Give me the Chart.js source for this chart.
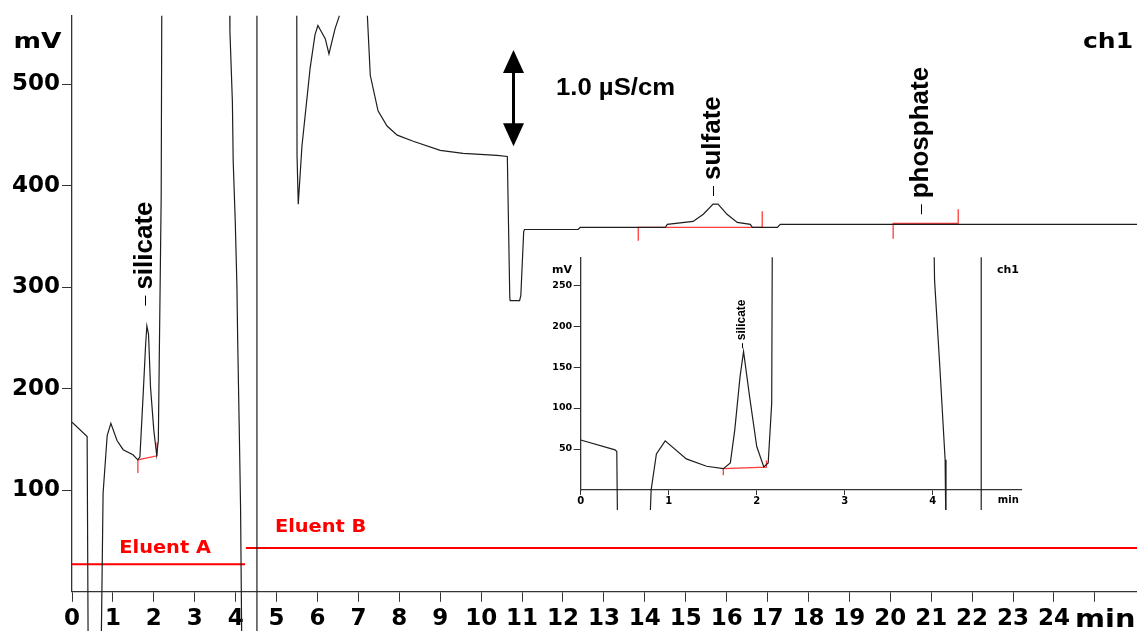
<!DOCTYPE html>
<html>
<head>
<meta charset="utf-8">
<script src="https://cdn.jsdelivr.net/npm/chart.js@4.4.1/dist/chart.umd.min.js"></script>
<style>
    body { margin: 0; background: #fff; }
    #wrap { position: relative; width: 1137px; height: 631px; }
    #main { position: absolute; left: 0; top: 0; }
    #inset { position: absolute; left: 540px; top: 250px; }
</style>
</head>
<body>
<div id="wrap">
    <canvas id="main" width="1137" height="631"></canvas>
    <canvas id="inset" width="490" height="260"></canvas>
</div>
<script>
// Chromatogram ch1 - signal in mV against retention time in min
// values above/below the plot range are off-scale excursions (clipped)
const mainTime = [0.00, 0.37, 0.40, 0.70, 0.76, 0.86, 0.95, 1.10, 1.25, 1.49, 1.61, 1.66, 1.74, 1.80, 1.83, 1.87,
    1.92, 2.00, 2.07, 2.11, 2.13, 2.18, 2.20, 3.84, 3.86, 3.92, 3.94, 3.99, 4.03, 4.05, 4.09, 4.12, 4.16, 4.52, 4.52,
    5.49, 5.50, 5.53, 5.62, 5.82, 5.94, 6.01, 6.19, 6.28, 6.43, 6.53, 6.56, 7.21, 7.22, 7.29, 7.48, 7.70, 7.95, 8.34,
    9.00, 9.56, 10.39, 10.64, 10.70, 10.71, 10.94, 10.97, 11.04, 11.06, 12.37, 12.42, 14.50, 14.55, 15.18, 15.43,
    15.67, 15.79, 16.01, 16.26, 16.58, 16.63, 17.24, 17.31, 26.03];
const mainSignal = [167, 153, -100, -100, 97, 154, 166, 149, 140, 135, 130, 133, 195, 244, 262, 254,
    201, 159, 135, 149, 220, 390, 650, 650, 552, 483, 424, 365, 303, 247, 156, 83, -100, -100, 650,
    650, 430, 382, 439, 516, 549, 558, 545, 530, 555, 567, 650, 650, 567, 509, 474, 459, 450, 444,
    435, 432, 430, 429, 290, 287, 287, 292, 355, 357, 357, 359, 359, 362, 365, 372,
    382, 382, 372, 364, 362, 359, 359, 362, 362];

// integration baselines (red), main chart
const silicateBaseTime = [1.61, 1.61, 2.08, 2.08];
const silicateBaseMv = [117, 130, 134, 147];
const sulfateBaseTime = [13.84, 13.84, 16.87, 16.87];
const sulfateBaseMv = [346, 359, 359, 375];
const phosphateBaseTime = [20.07, 20.07, 21.66, 21.66];
const phosphateBaseMv = [348, 363, 363, 377];

// eluent program lines
const eluentATime = [0, 4.23];
const eluentAMv = [27, 27];
const eluentBTime = [4.25, 26.03];
const eluentBMv = [43, 43];

// peak labels
const peakNames = ['silicate', 'sulfate', 'phosphate'];
const peakTimes = [1.785, 15.67, 20.75];
const peakLabelMv = [282, 390, 372];

// inset: zoom on the first 5 minutes
const insetTime = [0.00, 0.39, 0.41, 0.42, 0.78, 0.80, 0.86, 0.96, 1.20, 1.43, 1.62, 1.70, 1.75, 1.81, 1.85,
    1.92, 2.00, 2.08, 2.13, 2.17, 2.18, 4.00, 4.02, 4.08, 4.14, 4.15, 4.55, 4.55, 5.01];
const insetSignal = [61, 49, 47, -60, -60, 0, 44, 60, 38, 29, 26, 33, 73, 138, 169,
    113, 53, 28, 33, 106, 400, 400, 256, 150, 37, -60, -60, 400, 400];
const insetBaseTime = [1.62, 1.62, 2.11, 2.11];
const insetBaseMv = [18, 26, 28, 36];
const insetPeakTime = 1.83;
const insetPeakMv = 173;

// tick values
const mainXTicks = [0, 1, 2, 3, 4, 5, 6, 7, 8, 9, 10, 11, 12, 13, 14, 15, 16, 17, 18, 19, 20, 21, 22, 23, 24, 25];
const mainYTicks = [100, 200, 300, 400, 500];
const insetXTicks = [0, 1, 2, 3, 4];
const insetYTicks = [50, 100, 150, 200, 250];

const toPoints = (xs, ys) => xs.map((x, i) => ({ x: x, y: ys[i] }));

function drawText(ctx, str, x, y, o) {
    ctx.save();
    ctx.translate(x, y);
    if (o.sx) ctx.scale(o.sx, 1);
    if (o.rot) ctx.rotate(o.rot);
    ctx.font = o.font;
    ctx.fillStyle = o.color || '#000';
    ctx.textAlign = o.align || 'left';
    ctx.textBaseline = o.baseline || 'alphabetic';
    ctx.fillText(str, 0, 0);
    ctx.restore();
}

function peakLabel(ctx, name, px, py, dash, gap, font) {
    ctx.save();
    ctx.strokeStyle = '#000';
    ctx.lineWidth = 1;
    ctx.beginPath();
    ctx.moveTo(Math.round(px) + 0.5, py);
    ctx.lineTo(Math.round(px) + 0.5, py - dash);
    ctx.stroke();
    ctx.restore();
    drawText(ctx, name, px, py - dash - gap, { font: font, rot: -Math.PI / 2, baseline: 'middle' });
}

const BOLD = '"DejaVu Sans", sans-serif';
const ARIAL = '"Liberation Sans", Arial, sans-serif';

// texts and arrow on the main chart
const mainDecor = {
    id: 'mainDecor',
    afterDatasetsDraw(chart) {
        const ctx = chart.ctx;
        const xs = chart.scales.x, ys = chart.scales.y;

        peakNames.forEach((name, i) => {
            peakLabel(ctx, name, xs.getPixelForValue(peakTimes[i]), ys.getPixelForValue(peakLabelMv[i]),
                10, 6, 'bold 26px ' + ARIAL);
        });

        drawText(ctx, 'Eluent A', xs.getPixelForValue(1.156), ys.getPixelForValue(38.4),
            { font: 'bold 17px ' + BOLD, color: '#ff0000', sx: 1.14 });
        drawText(ctx, 'Eluent B', xs.getPixelForValue(4.96), ys.getPixelForValue(59),
            { font: 'bold 17px ' + BOLD, color: '#ff0000', sx: 1.14 });

        // 1.0 uS/cm scale arrow
        const ax = Math.round(xs.getPixelForValue(10.77)) + 0.5;
        const top = ys.getPixelForValue(534), bot = ys.getPixelForValue(439);
        ctx.save();
        ctx.fillStyle = '#000';
        ctx.strokeStyle = '#000';
        ctx.lineWidth = 3;
        ctx.beginPath();
        ctx.moveTo(ax, top + 20);
        ctx.lineTo(ax, bot - 20);
        ctx.stroke();
        ctx.beginPath();
        ctx.moveTo(ax, top); ctx.lineTo(ax - 10.5, top + 23); ctx.lineTo(ax + 10.5, top + 23);
        ctx.closePath(); ctx.fill();
        ctx.beginPath();
        ctx.moveTo(ax, bot); ctx.lineTo(ax - 10.5, bot - 23); ctx.lineTo(ax + 10.5, bot - 23);
        ctx.closePath(); ctx.fill();
        ctx.restore();
        drawText(ctx, '1.0 \u00b5S/cm', 556, 95, { font: 'bold 24px ' + ARIAL, sx: 1.07 });

        // axis captions
        drawText(ctx, 'mV', 37.5, 48, { font: 'bold 22px ' + BOLD, sx: 1.2, align: 'center' });
        drawText(ctx, 'ch1', 1108, 48, { font: 'bold 22px ' + BOLD, sx: 1.14, align: 'center' });
        drawText(ctx, 'min', 1075, 626.7, { font: 'bold 24px ' + BOLD, sx: 1.2 });
    }
};

const insetDecor = {
    id: 'insetDecor',
    afterDatasetsDraw(chart) {
        const ctx = chart.ctx;
        const xs = chart.scales.x, ys = chart.scales.y;
        peakLabel(ctx, 'silicate', xs.getPixelForValue(insetPeakTime), ys.getPixelForValue(insetPeakMv),
            5, 3, 'bold 12px ' + ARIAL);
        drawText(ctx, 'mV', 22, 22.7, { font: 'bold 11px ' + BOLD, align: 'center' });
        drawText(ctx, 'ch1', 468, 22.7, { font: 'bold 11px ' + BOLD, align: 'center' });
        drawText(ctx, 'min', 468.3, 253.3, { font: 'bold 10px ' + BOLD, align: 'center' });
    }
};

function axisOpts(o) {
    return {
        type: 'linear',
        min: o.min,
        max: o.max,
        afterBuildTicks: (scale) => { scale.ticks = o.ticks.map(v => ({ value: v })); },
        afterFit: o.fit,
        border: { display: true, color: '#333', width: 1.3 },
        grid: { display: true, drawOnChartArea: false, drawTicks: true, tickLength: o.tickLength, color: '#333', lineWidth: 1 },
        ticks: {
            autoSkip: false,
            maxRotation: 0,
            padding: o.padding,
            color: '#000',
            font: { family: 'DejaVu Sans', size: o.fontSize, weight: 'bold' },
            callback: o.label || ((v) => v)
        }
    };
}

const traceStyle = { borderColor: '#1e1e1e', borderWidth: 1.2, pointRadius: 0, tension: 0, fill: false };
const baseStyle = { borderColor: '#ff3b3b', borderWidth: 1.3, pointRadius: 0, tension: 0, fill: false };

new Chart(document.getElementById('main'), {
    type: 'line',
    data: {
        datasets: [
            Object.assign({ data: toPoints(mainTime, mainSignal), clip: { left: 0, top: 0, right: 0, bottom: false } }, traceStyle),
            Object.assign({ data: toPoints(silicateBaseTime, silicateBaseMv) }, baseStyle),
            Object.assign({ data: toPoints(sulfateBaseTime, sulfateBaseMv) }, baseStyle),
            Object.assign({ data: toPoints(phosphateBaseTime, phosphateBaseMv) }, baseStyle),
            { data: toPoints(eluentATime, eluentAMv), borderColor: '#ff0000', borderWidth: 2, pointRadius: 0 },
            { data: toPoints(eluentBTime, eluentBMv), borderColor: '#ff0000', borderWidth: 2, pointRadius: 0 }
        ]
    },
    options: {
        responsive: false,
        animation: false,
        devicePixelRatio: 1,
        layout: { padding: { top: 14, right: 0, left: 0, bottom: 0 } },
        plugins: { legend: { display: false }, tooltip: { enabled: false } },
        scales: {
            x: axisOpts({
                min: 0, max: 26.03, ticks: mainXTicks, tickLength: 10, padding: 3, fontSize: 23,
                fit: (s) => { s.height = 39.25; },
                label: (v) => (v === 25 ? '' : v)
            }),
            y: axisOpts({
                min: 0, max: 567.6, ticks: mainYTicks, tickLength: 10, padding: 2, fontSize: 23,
                fit: (s) => { s.width = 72; }
            })
        }
    },
    plugins: [mainDecor]
});

new Chart(document.getElementById('inset'), {
    type: 'line',
    data: {
        datasets: [
            Object.assign({ data: toPoints(insetTime, insetSignal), clip: { left: 0, top: 0, right: 0, bottom: false } }, traceStyle),
            Object.assign({ data: toPoints(insetBaseTime, insetBaseMv) }, baseStyle)
        ]
    },
    options: {
        responsive: false,
        animation: false,
        devicePixelRatio: 1,
        layout: { padding: { top: 7, right: 8.3, left: 0, bottom: 0 } },
        plugins: { legend: { display: false }, tooltip: { enabled: false } },
        scales: {
            x: axisOpts({
                min: 0, max: 5.01, ticks: insetXTicks, tickLength: 5, padding: 0, fontSize: 10,
                fit: (s) => { s.height = 20; }
            }),
            y: axisOpts({
                min: 0, max: 284, ticks: insetYTicks, tickLength: 7, padding: 1.5, fontSize: 9.5,
                fit: (s) => { s.width = 40.7; }
            })
        }
    },
    plugins: [insetDecor]
});
</script>
</body>
</html>
